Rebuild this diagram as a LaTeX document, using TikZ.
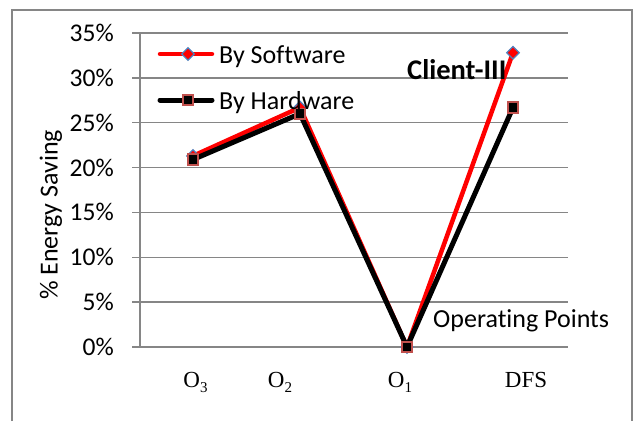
\documentclass[tikz,border=0pt]{standalone}
\usepackage{fontspec}
\setmainfont{Carlito}[Ligatures=NoCommon]
\newfontfamily\tnr{Liberation Serif}
\usetikzlibrary{shapes.geometric}
\definecolor{gridgray}{HTML}{868686}
\definecolor{mkblue}{HTML}{4F81BD}
\definecolor{mkred}{HTML}{C0504D}
\newcommand\subdig[1]{\raisebox{-0.22em}{\fontsize{15}{15}\selectfont #1}}
\begin{document}
\begin{tikzpicture}[x=1pt,y=-1pt,
  grid/.style={draw=gridgray,line width=1.3pt},
  swline/.style={draw=red,line width=4.5pt,line join=round,line cap=round},
  hwline/.style={draw=black,line width=5pt,line join=round,line cap=round},
  swmark/.style={diamond,fill=red,draw=mkblue,line width=1.3pt,minimum width=13pt,minimum height=13pt,inner sep=0pt},
  hwmark/.style={rectangle,fill=black,draw=mkred,line width=1.6pt,minimum size=10.5pt,inner sep=0pt},
  ticklab/.style={anchor=base east,inner sep=0pt,font=\fontsize{25.5}{30}\selectfont},
  catlab/.style={anchor=base,inner sep=0pt,font=\tnr\fontsize{23}{27}\selectfont},
  lab/.style={inner sep=0pt,font=\fontsize{26}{30}\selectfont}]
\useasboundingbox (0,0) rectangle (643,421);
% outer frame (bottom edge cropped)
\coordinate (f1) at (12,421);
\coordinate (f2) at (12,10);
\coordinate (f3) at (632,10);
\coordinate (f4) at (632,421);
\draw[grid] (f1) -- (f2) -- (f3) -- (f4);
% gridlines and tick labels
\foreach \v in {0,5,...,35} {
  \pgfmathsetmacro\yy{347-\v*8.9714}
  \coordinate (gl\v) at (132,\yy);
  \coordinate (gr\v) at (568,\yy);
  \draw[grid] (gl\v) -- (gr\v);
  \node[ticklab] (t\v) at (114,\yy+8.5) {\v\%};
}
% vertical axis
\coordinate (ax1) at (140,33);
\coordinate (ax2) at (140,347);
\draw[grid] (ax1) -- (ax2);
% axis title
\node[lab,rotate=90] (ylab) at (51,215) {\% Energy Saving};
% category labels
\node[catlab] (c3) at (195.5,387) {O\subdig{3}};
\node[catlab] (c2) at (280,387) {O\subdig{2}};
\node[catlab] (c1) at (400,387) {O\subdig{1}};
\node[catlab] (cd) at (526,387) {DFS};
% data points
\coordinate (s1) at (193,155.9);
\coordinate (s2) at (300,107.5);
\coordinate (s3) at (407,347);
\coordinate (s4) at (513,52.7);
\coordinate (h1) at (193,159.5);
\coordinate (h2) at (300,113.7);
\coordinate (h3) at (407,347);
\coordinate (h4) at (513,107.5);
% software series
\draw[swline] (s1) -- (s2) -- (s3) -- (s4);
\foreach \i in {1,...,4} \node[swmark] (ms\i) at (s\i) {};
% hardware series
\draw[hwline] (h1) -- (h2) -- (h3) -- (h4);
\foreach \i in {1,...,4} \node[hwmark] (mh\i) at (h\i) {};
% legend
\coordinate (lsa) at (160,54);
\coordinate (lsb) at (212,54);
\draw[swline] (lsa) -- (lsb);
\node[swmark] (lsm) at (188,54) {};
\node[lab,anchor=base west] (lst) at (219,63) {By Software};
\coordinate (lha) at (160,100);
\coordinate (lhb) at (212,100);
\draw[hwline] (lha) -- (lhb);
\node[hwmark] (lhm) at (188,100) {};
\node[lab,anchor=base west] (lht) at (219,109) {By Hardware};
% annotations
\node[inner sep=0pt,anchor=base west,font=\bfseries\fontsize{28.5}{32}\selectfont] (title) at (407,79) {Client-III};
\node[lab,anchor=base west] (op) at (433,327) {Operating Points};
\end{tikzpicture}
\end{document}
